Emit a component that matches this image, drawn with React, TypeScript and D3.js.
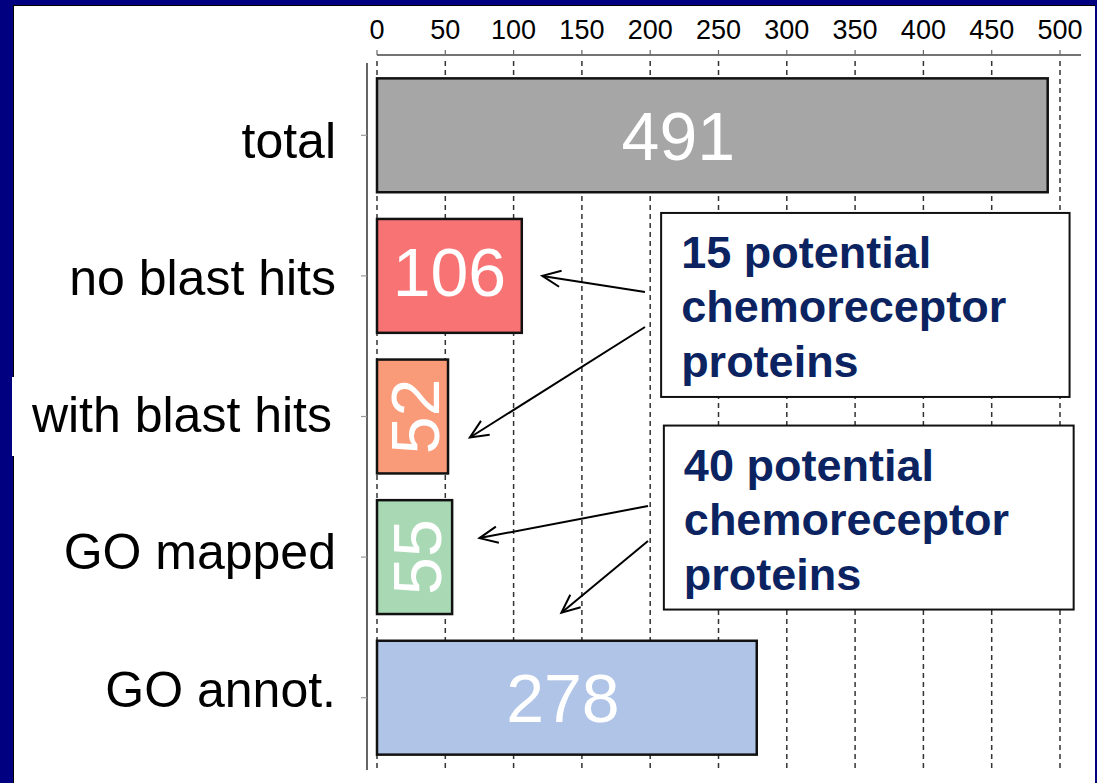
import React, { useEffect, useRef } from 'react';
import * as d3 from 'd3';

// data
const categories = ['total', 'no blast hits', 'with blast hits', 'GO mapped', 'GO annot.'];
const counts = [491, 106, 52, 55, 278];
const barColors = ['#a6a6a6', '#f87474', '#f99a78', '#a8d8b4', '#afc4e7'];
const rotatedLabel = [false, false, true, true, false];
const labelShift = [-34, 0, 0, 0, -4];
const xTicks = [0, 50, 100, 150, 200, 250, 300, 350, 400, 450, 500];
const noteLines1 = ['15 potential', 'chemoreceptor', 'proteins'];
const noteLines2 = ['40 potential', 'chemoreceptor', 'proteins'];

const W = 1097;
const H = 783;
const FONT = '"Liberation Sans", Arial, Helvetica, sans-serif';

const App = () => {
  const svgRef = useRef<SVGSVGElement>(null);

  useEffect(() => {
    const svg = d3.select(svgRef.current);
    svg.selectAll('*').remove();

    // slide frame
    svg.append('rect').attr('width', W).attr('height', H).attr('fill', '#000080');
    svg.append('rect').attr('x', 13).attr('y', 5).attr('width', 1082).attr('height', H).attr('fill', '#000');
    svg.append('rect').attr('x', 14).attr('y', 6).attr('width', 1081).attr('height', H).attr('fill', '#fff');
    svg.append('rect').attr('x', 12).attr('y', 377).attr('width', 340).attr('height', 79).attr('fill', '#fff');

    const x = d3.scaleLinear().domain([0, 500]).range([377, 1060]);
    const y = d3.scaleBand<string>()
      .domain(categories)
      .range([65, 768])
      .paddingInner(0.19)
      .paddingOuter(0.095);
    // category labels sit on a slightly tighter spacing than the bars
    const yLabel = d3.scalePoint<string>().domain(categories).range([140, 689]);

    // dashed grid
    svg.append('g')
      .selectAll('line')
      .data(xTicks)
      .enter()
      .append('line')
      .attr('x1', d => x(d))
      .attr('x2', d => x(d))
      .attr('y1', 61)
      .attr('y2', 770)
      .attr('stroke', '#333')
      .attr('stroke-width', 1.5)
      .attr('stroke-dasharray', '5,4');

    // top axis
    const axis = svg.append('g');
    axis.append('line')
      .attr('x1', x(0)).attr('x2', 1081)
      .attr('y1', 55).attr('y2', 55)
      .attr('stroke', '#444').attr('stroke-width', 1.5);
    axis.selectAll('.tick')
      .data(xTicks)
      .enter()
      .append('line')
      .attr('x1', d => x(d)).attr('x2', d => x(d))
      .attr('y1', 50).attr('y2', 55)
      .attr('stroke', '#666').attr('stroke-width', 1.2);
    axis.selectAll('text')
      .data(xTicks)
      .enter()
      .append('text')
      .attr('x', d => x(d))
      .attr('y', 39)
      .attr('text-anchor', 'middle')
      .attr('font-family', FONT)
      .attr('font-size', '27px')
      .attr('fill', '#000')
      .text(d => d);

    // left axis
    svg.append('line')
      .attr('x1', 367).attr('x2', 367)
      .attr('y1', 63).attr('y2', 770)
      .attr('stroke', '#333').attr('stroke-width', 1.5);

    const bandMid = (c: string) => (y(c) as number) + y.bandwidth() / 2;

    svg.append('g')
      .selectAll('line')
      .data(categories)
      .enter()
      .append('line')
      .attr('x1', 361).attr('x2', 367)
      .attr('y1', d => bandMid(d)).attr('y2', d => bandMid(d))
      .attr('stroke', '#999').attr('stroke-width', 1.2);

    // category labels
    svg.append('g')
      .selectAll('text')
      .data(categories)
      .enter()
      .append('text')
      .attr('x', (d, i) => (i === 2 ? 332 : 336))
      .attr('y', d => yLabel(d) as number)
      .attr('dy', '0.35em')
      .attr('text-anchor', 'end')
      .attr('font-family', FONT)
      .attr('font-size', '50px')
      .attr('fill', '#000')
      .text(d => d);

    // bars
    svg.append('g')
      .selectAll('rect')
      .data(categories)
      .enter()
      .append('rect')
      .attr('x', x(0))
      .attr('y', d => y(d) as number)
      .attr('width', (d, i) => x(counts[i]) - x(0))
      .attr('height', y.bandwidth())
      .attr('fill', (d, i) => barColors[i])
      .attr('stroke', '#111')
      .attr('stroke-width', 2.5);

    // bar value labels
    svg.append('g')
      .selectAll('text')
      .data(categories)
      .enter()
      .append('text')
      .attr('transform', (d, i) => {
        const cx = (x(0) + x(counts[i])) / 2 + labelShift[i];
        const cy = bandMid(d) - (i === 1 ? 4 : 0);
        return rotatedLabel[i] ? `translate(${cx + 2},${cy}) rotate(-90)` : `translate(${cx},${cy})`;
      })
      .attr('dy', '0.36em')
      .attr('text-anchor', 'middle')
      .attr('font-family', FONT)
      .attr('font-size', '68px')
      .attr('fill', '#fff')
      .text((d, i) => counts[i]);

    // annotation boxes
    const notes = [
      { lines: noteLines1, x0: 208, x1: 507, top: y('no blast hits')! - 6 },
      { lines: noteLines2, x0: 210, x1: 510, top: y('with blast hits')! + 66 },
    ];
    notes.forEach(n => {
      const g = svg.append('g');
      g.append('rect')
        .attr('x', x(n.x0))
        .attr('y', n.top)
        .attr('width', x(n.x1) - x(n.x0))
        .attr('height', 184)
        .attr('fill', '#fff')
        .attr('stroke', '#111')
        .attr('stroke-width', 2);
      g.selectAll('text')
        .data(n.lines)
        .enter()
        .append('text')
        .attr('x', x(n.x0) + 20)
        .attr('y', (d, i) => n.top + 55 + i * 54.5)
        .attr('font-family', FONT)
        .attr('font-weight', 'bold')
        .attr('font-size', '45px')
        .attr('fill', '#0b2461')
        .text(d => d);
    });

    // arrows: start next to the boxes, end at a value on a category
    const arrows = [
      { sx: 645, sy: 292, v: 121, cat: 'no blast hits', off: 0 },
      { sx: 645, sy: 327, v: 68, cat: 'with blast hits', off: 21 },
      { sx: 648, sy: 506, v: 75, cat: 'GO mapped', off: -19 },
      { sx: 648, sy: 541, v: 135, cat: 'GO annot.', off: -85 },
    ];
    arrows.forEach(a => {
      const ex = x(a.v);
      const ey = bandMid(a.cat) + a.off;
      const ang = Math.atan2(a.sy - ey, a.sx - ex);
      const hl = 20;
      const spread = 0.42;
      svg.append('line')
        .attr('x1', a.sx).attr('y1', a.sy)
        .attr('x2', ex).attr('y2', ey)
        .attr('stroke', '#000').attr('stroke-width', 2);
      const head = d3.path();
      head.moveTo(ex + hl * Math.cos(ang + spread), ey + hl * Math.sin(ang + spread));
      head.lineTo(ex, ey);
      head.lineTo(ex + hl * Math.cos(ang - spread), ey + hl * Math.sin(ang - spread));
      svg.append('path')
        .attr('d', head.toString())
        .attr('fill', 'none')
        .attr('stroke', '#000')
        .attr('stroke-width', 2);
    });
  }, []);

  return (
    <svg
      ref={svgRef}
      width={W}
      height={H}
      viewBox={`0 0 ${W} ${H}`}
      style={{ position: 'absolute', left: 0, top: 0, display: 'block' }}
    />
  );
};

export default App;
